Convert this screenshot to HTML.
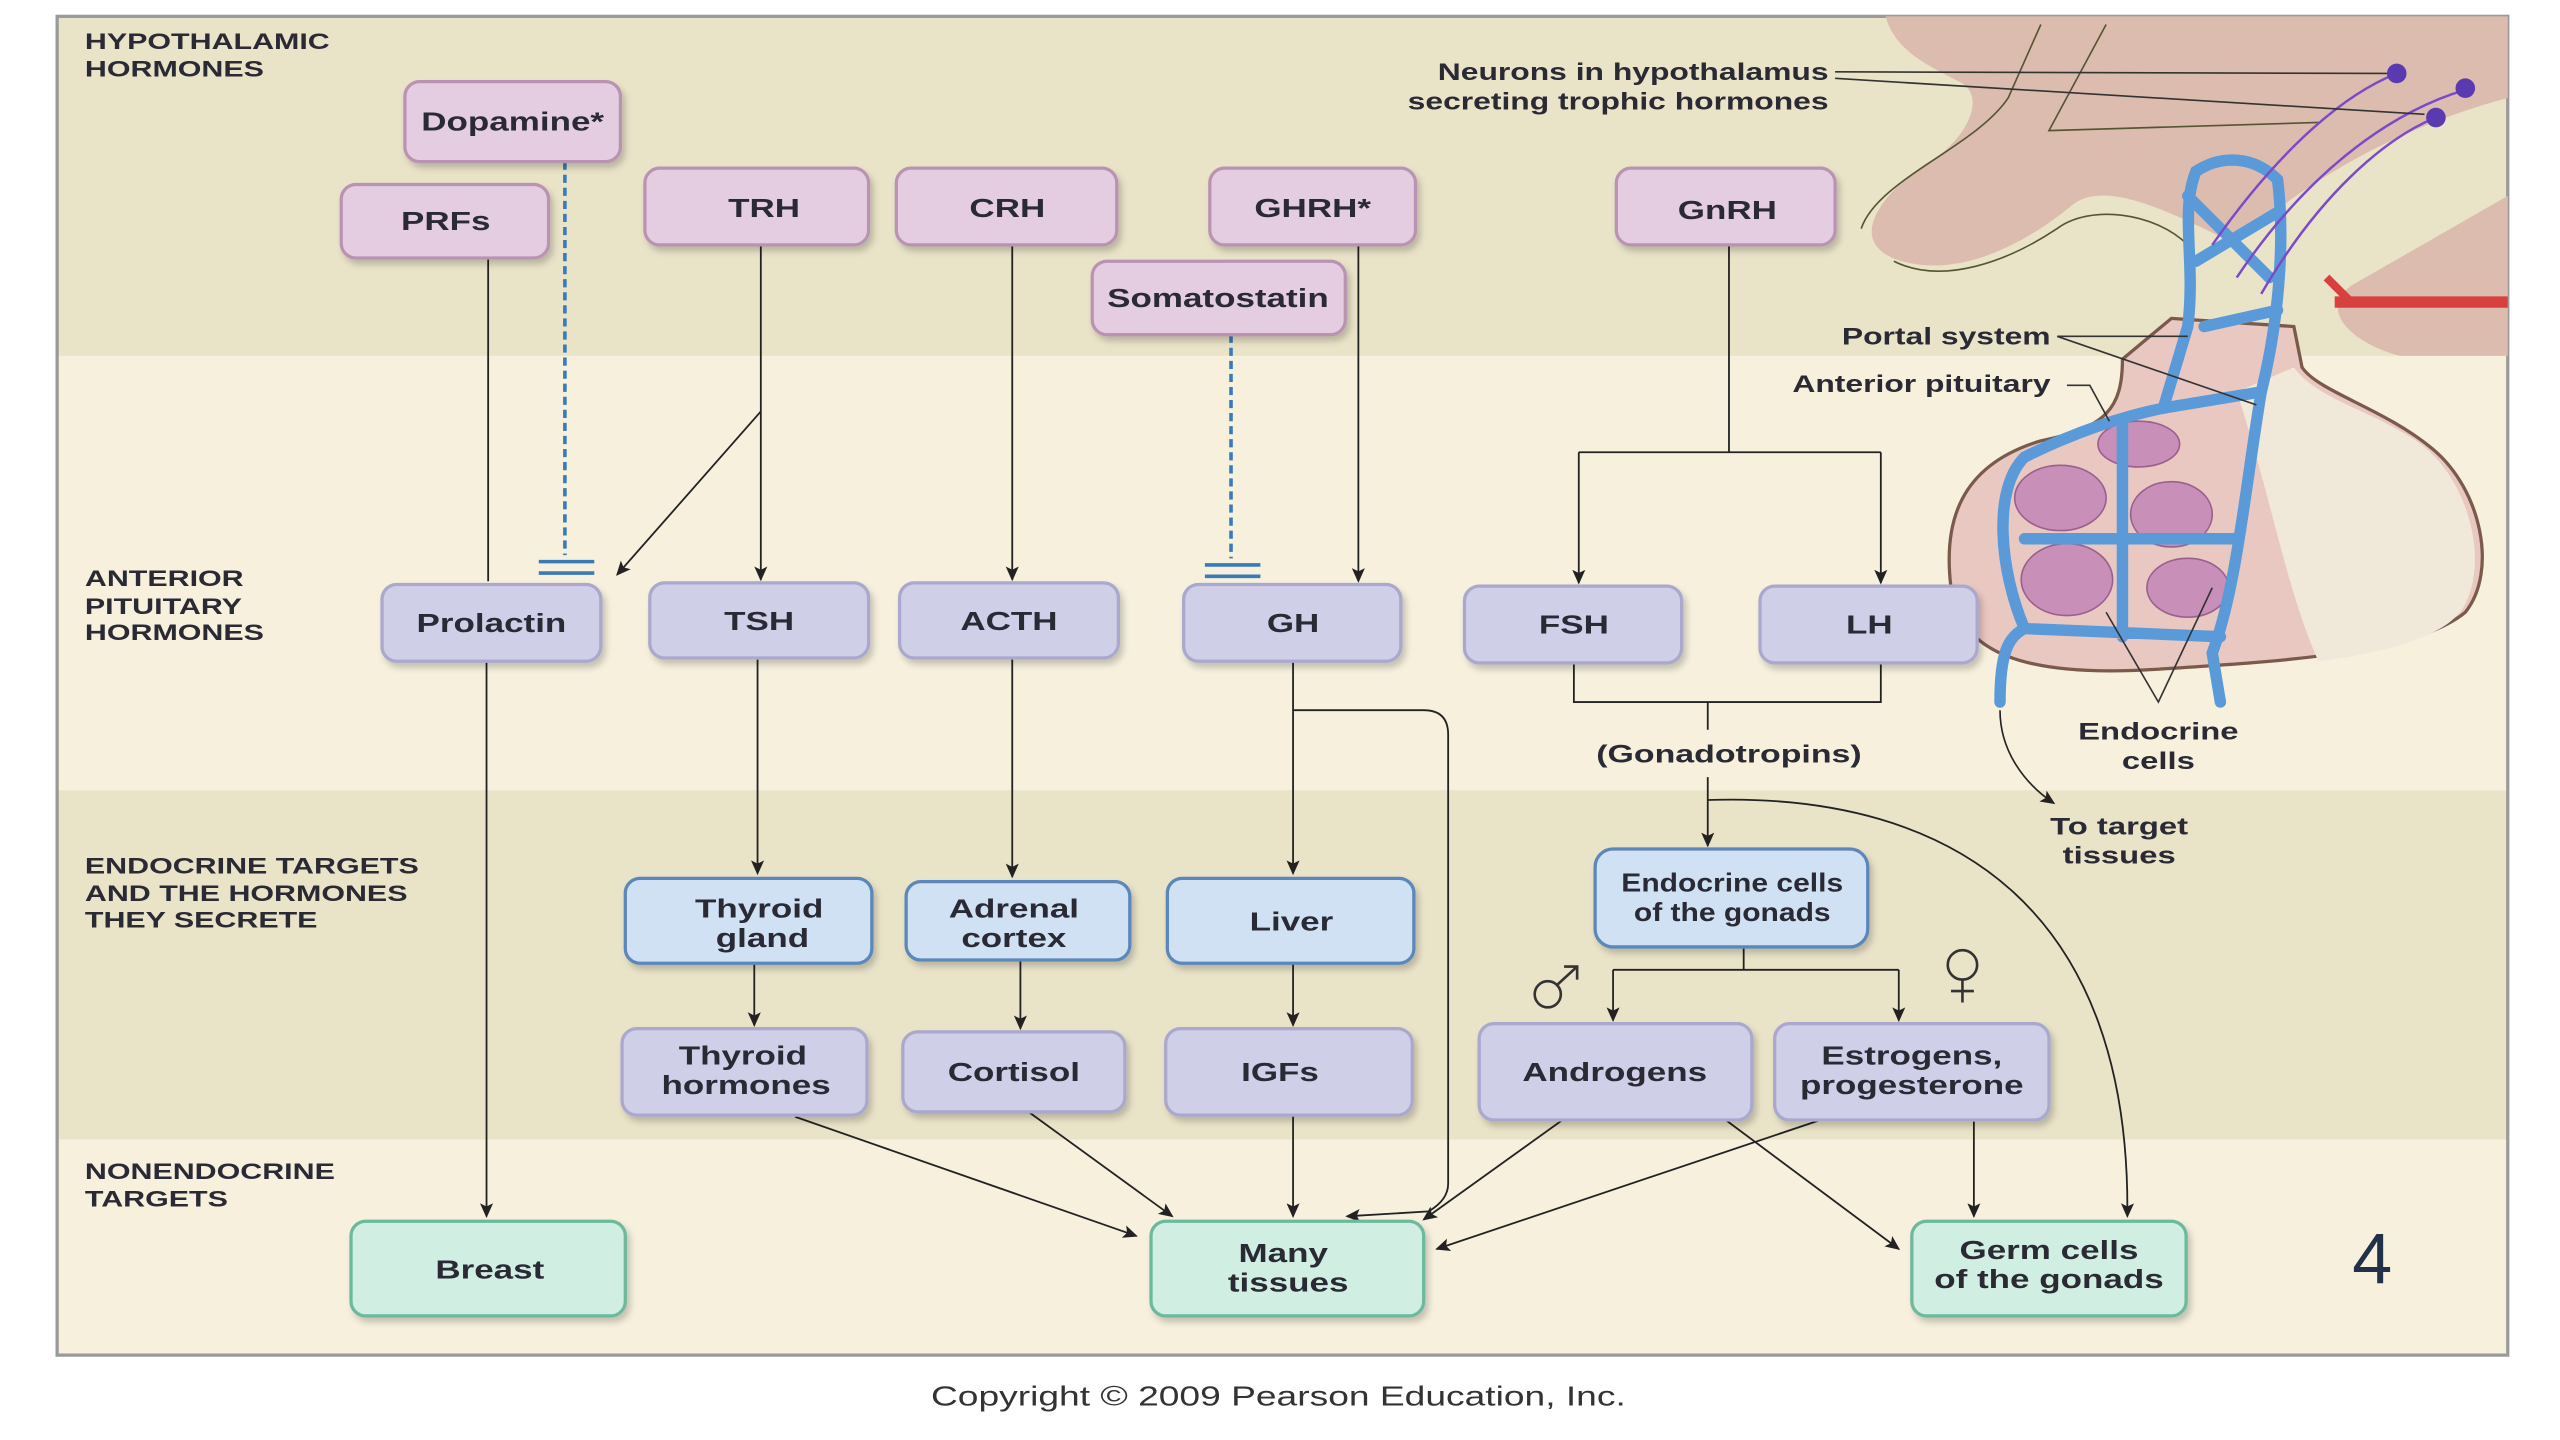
<!DOCTYPE html>
<html><head><meta charset="utf-8"><style>
html,body{margin:0;padding:0;background:#fff;width:2560px;height:1440px;overflow:hidden}
svg{display:block}
text{font-family:"Liberation Sans",sans-serif;font-weight:bold;fill:#2a2a35}
.c{transform-box:fill-box;transform-origin:center;transform:scaleX(1.34)}
.l{transform-box:fill-box;transform-origin:left;transform:scaleX(1.38)}
.r{transform-box:fill-box;transform-origin:right;transform:scaleX(1.3)}
</style></head><body>
<svg width="2560" height="1440" viewBox="0 0 1568 882" xmlns="http://www.w3.org/2000/svg">
<defs>
<marker id="a" markerWidth="10" markerHeight="10" refX="8" refY="5" orient="auto" markerUnits="userSpaceOnUse"><path d="M0,1 L9,5 L0,9 L2,5 Z" fill="#222"/></marker>
<filter id="s" x="-10%" y="-10%" width="130%" height="140%"><feDropShadow dx="2" dy="3" stdDeviation="2" flood-color="#000" flood-opacity="0.2"/></filter>
</defs>
<rect width="1568" height="882" fill="#fff"/>
<rect x="35" y="10" width="1501" height="208" fill="#e9e3c8"/>
<rect x="35" y="218" width="1501" height="266" fill="#f6f0dd"/>
<rect x="35" y="484" width="1501" height="214" fill="#e9e3c8"/>
<rect x="35" y="698" width="1501" height="132" fill="#f6f0dd"/>
<rect x="35" y="10" width="1501" height="820" fill="none" stroke="#9a9a9a" stroke-width="2"/>

<!-- illustration -->
<path d="M1155 10 L1536 10 L1536 218 L1470 218 C1440 210 1420 190 1440 175 L1536 120 L1536 60 C1460 80 1400 120 1370 150 C1330 130 1290 110 1270 125 C1240 150 1200 170 1165 160 C1130 150 1150 120 1180 100 C1200 90 1220 60 1200 50 C1180 40 1160 30 1155 10 Z" fill="#dcbcae"/>
<path d="M1140 140 C1150 110 1210 90 1230 60 L1250 15 M1290 15 L1255 80 L1420 75 M1160 160 C1190 175 1230 160 1260 140 C1280 125 1320 130 1340 150" stroke="#553" stroke-width="1" fill="none"/>
<path d="M1300 220 C1300 250 1290 262 1250 270 C1200 285 1190 320 1195 360 C1200 400 1240 415 1320 410 C1400 405 1480 400 1510 375 C1530 350 1520 300 1490 275 C1460 250 1420 240 1410 225 L1405 200 L1330 195 Z" fill="#e8c8c0" stroke="#7a5a4a" stroke-width="2"/>
<path d="M1370 240 C1390 300 1400 360 1420 405 C1460 400 1500 390 1510 370 C1525 340 1510 290 1480 270 C1450 250 1420 245 1405 225 Z" fill="#f0e8d8"/>
<g fill="#c890b8" stroke="#9a6090" stroke-width="1">
<ellipse cx="1262" cy="305" rx="28" ry="20"/><ellipse cx="1310" cy="272" rx="25" ry="14"/><ellipse cx="1330" cy="315" rx="25" ry="20"/><ellipse cx="1266" cy="355" rx="28" ry="22"/><ellipse cx="1340" cy="360" rx="25" ry="18"/>
</g>
<g stroke="#5a9ad8" stroke-width="7" fill="none" stroke-linecap="round">
<path d="M1225 430 C1225 400 1230 390 1240 385 C1225 350 1220 300 1240 280 C1270 265 1300 255 1325 250 L1340 200 C1345 160 1335 130 1345 105 C1360 95 1380 95 1395 110 C1400 150 1395 200 1385 240 C1375 300 1370 360 1355 400 L1360 430"/>
<path d="M1240 330 L1370 330 M1240 385 L1360 390 M1300 260 L1300 390 M1340 120 L1390 170 M1345 160 L1395 130 M1350 200 L1395 190 M1325 250 L1385 240"/>
</g>
<g stroke="#7a4ac8" stroke-width="1.5" fill="none">
<path d="M1355 150 C1390 100 1430 60 1468 45 M1370 170 C1410 110 1460 70 1510 55 M1385 180 C1420 120 1460 85 1492 72"/>
</g>
<g fill="#5a3ab0"><circle cx="1468" cy="45" r="6"/><circle cx="1510" cy="54" r="6"/><circle cx="1492" cy="72" r="6"/></g>
<path d="M1430 185 L1536 185" stroke="#d84040" stroke-width="7" fill="none"/>
<path d="M1425 170 L1440 185" stroke="#d84040" stroke-width="5" fill="none"/>

<!-- illustration labels -->
<text class="r" x="1120" y="49" font-size="15" text-anchor="end">Neurons in hypothalamus</text>
<text class="r" x="1120" y="67" font-size="15" text-anchor="end">secreting trophic hormones</text>
<path d="M1124 44 L1462 45 M1124 48 L1485 70" stroke="#333" stroke-width="1" fill="none"/>
<text class="r" x="1256" y="211" font-size="15" text-anchor="end">Portal system</text>
<path d="M1260 206 L1340 206 M1260 206 L1382 248" stroke="#333" stroke-width="1" fill="none"/>
<text class="r" x="1256" y="240" font-size="15" text-anchor="end">Anterior pituitary</text>
<path d="M1266 236 L1280 236 L1292 258" stroke="#333" stroke-width="1" fill="none"/>
<path d="M1290 375 L1322 430 L1355 360" stroke="#333" stroke-width="1" fill="none"/>
<text class="c" x="1322" y="453" font-size="15" text-anchor="middle">Endocrine</text>
<text class="c" x="1322" y="471" font-size="15" text-anchor="middle">cells</text>
<path d="M1225 435 C1225 460 1240 480 1258 492" stroke="#222" stroke-width="1" fill="none" marker-end="url(#a)"/>
<text class="c" x="1298" y="511" font-size="15" text-anchor="middle">To target</text>
<text class="c" x="1298" y="529" font-size="15" text-anchor="middle">tissues</text>

<!-- row labels -->
<g font-size="13.5">
<text class="l" x="52" y="30">HYPOTHALAMIC</text><text class="l" x="52" y="47">HORMONES</text>
<text class="l" x="52" y="359">ANTERIOR</text><text class="l" x="52" y="376">PITUITARY</text><text class="l" x="52" y="392">HORMONES</text>
<text class="l" x="52" y="535">ENDOCRINE TARGETS</text><text class="l" x="52" y="552">AND THE HORMONES</text><text class="l" x="52" y="568">THEY SECRETE</text>
<text class="l" x="52" y="722">NONENDOCRINE</text><text class="l" x="52" y="739">TARGETS</text>
</g>

<!-- connectors -->
<g stroke="#222" stroke-width="1.1" fill="none">
<path d="M299 158 L299 356"/>
<path d="M298 405 L298 745" marker-end="url(#a)"/>
<path d="M466 150 L466 355" marker-end="url(#a)"/>
<path d="M466 252 L378 352" marker-end="url(#a)"/>
<path d="M620 150 L620 355" marker-end="url(#a)"/>
<path d="M832 150 L832 356" marker-end="url(#a)"/>
<path d="M1059 150 L1059 277 M967 277 L1152 277"/>
<path d="M967 277 L967 357" marker-end="url(#a)"/>
<path d="M1152 277 L1152 357" marker-end="url(#a)"/>
<path d="M964 406 L964 430 L1152 430 L1152 406 M1046 430 L1046 447"/>
<path d="M1046 476 L1046 518" marker-end="url(#a)"/>
<path d="M1046 490 C1200 485 1305 560 1303 745" marker-end="url(#a)"/>
<path d="M464 403 L464 535" marker-end="url(#a)"/>
<path d="M620 403 L620 537" marker-end="url(#a)"/>
<path d="M792 405 L792 535" marker-end="url(#a)"/>
<path d="M792 435 L872 435 Q887 435 887 450 L887 725 Q887 735 875 742 L825 745" marker-end="url(#a)"/>
<path d="M462 590 L462 628" marker-end="url(#a)"/>
<path d="M625 588 L625 630" marker-end="url(#a)"/>
<path d="M792 590 L792 628" marker-end="url(#a)"/>
<path d="M792 683 L792 745" marker-end="url(#a)"/>
<path d="M487 684 L696 757" marker-end="url(#a)"/>
<path d="M630 681 L718 745" marker-end="url(#a)"/>
<path d="M957 686 L872 747" marker-end="url(#a)"/>
<path d="M1115 686 L880 765" marker-end="url(#a)"/>
<path d="M1057 686 L1163 765" marker-end="url(#a)"/>
<path d="M1209 686 L1209 745" marker-end="url(#a)"/>
<path d="M1068 580 L1068 594 M988 594 L1163 594"/>
<path d="M988 594 L988 625" marker-end="url(#a)"/>
<path d="M1163 594 L1163 625" marker-end="url(#a)"/>
</g>
<g stroke="#3a7ab8" stroke-width="2.2" fill="none">
<path d="M346 99 L346 340" stroke-dasharray="5,3"/>
<path d="M330 344 L364 344 M330 351 L364 351"/>
<path d="M754 205 L754 342" stroke-dasharray="5,3"/>
<path d="M738 346 L772 346 M738 353 L772 353"/>
</g>
<text class="c" x="1059" y="467" font-size="15.5" text-anchor="middle">(Gonadotropins)</text>
<g stroke="#333" stroke-width="1.6" fill="none">
<circle cx="948" cy="609" r="8"/><path d="M954 603 L966 592 M958 592 L966 592 L966 600"/>
<circle cx="1202" cy="591" r="9"/><path d="M1202 600 L1202 614 M1195 607 L1209 607"/>
</g>

<!-- boxes -->
<g filter="url(#s)" stroke-width="2">
<g fill="#e4cde0" stroke="#b994b2">
<rect x="248" y="50" width="132" height="49" rx="9"/>
<rect x="209" y="113" width="127" height="45" rx="9"/>
<rect x="395" y="103" width="137" height="47" rx="9"/>
<rect x="549" y="103" width="135" height="47" rx="9"/>
<rect x="741" y="103" width="126" height="47" rx="9"/>
<rect x="669" y="160" width="155" height="45" rx="9"/>
<rect x="990" y="103" width="134" height="47" rx="9"/>
</g>
<g fill="#d0cfe8" stroke="#aaa8cc">
<rect x="234" y="358" width="134" height="47" rx="9"/>
<rect x="398" y="357" width="134" height="46" rx="9"/>
<rect x="551" y="357" width="134" height="46" rx="9"/>
<rect x="725" y="358" width="133" height="47" rx="9"/>
<rect x="897" y="359" width="133" height="47" rx="9"/>
<rect x="1078" y="359" width="133" height="47" rx="9"/>
<rect x="381" y="630" width="150" height="53" rx="9"/>
<rect x="553" y="632" width="136" height="49" rx="9"/>
<rect x="714" y="630" width="151" height="53" rx="9"/>
<rect x="906" y="627" width="167" height="59" rx="9"/>
<rect x="1087" y="627" width="168" height="59" rx="9"/>
</g>
<g fill="#d0e1f4" stroke="#5b87ba">
<rect x="383" y="538" width="151" height="52" rx="9"/>
<rect x="555" y="540" width="137" height="48" rx="9"/>
<rect x="715" y="538" width="151" height="52" rx="9"/>
<rect x="977" y="520" width="167" height="60" rx="11"/>
</g>
<g fill="#d0eee2" stroke="#6cb99c">
<rect x="215" y="748" width="168" height="58" rx="9"/>
<rect x="705" y="748" width="167" height="58" rx="9"/>
<rect x="1171" y="748" width="168" height="58" rx="9"/>
</g>
</g>

<g font-size="16" text-anchor="middle">
<text class="c" x="314" y="80">Dopamine*</text>
<text class="c" x="273" y="141">PRFs</text>
<text class="c" x="468" y="133">TRH</text>
<text class="c" x="617" y="133">CRH</text>
<text class="c" x="804" y="133">GHRH*</text>
<text class="c" x="746" y="188">Somatostatin</text>
<text class="c" x="1058" y="134">GnRH</text>
<text class="c" x="301" y="387">Prolactin</text>
<text class="c" x="465" y="386">TSH</text>
<text class="c" x="618" y="386">ACTH</text>
<text class="c" x="792" y="387">GH</text>
<text class="c" x="964" y="388">FSH</text>
<text class="c" x="1145" y="388">LH</text>
<text class="c" x="465" y="562">Thyroid</text><text class="c" x="467" y="580">gland</text>
<text class="c" x="621" y="562">Adrenal</text><text class="c" x="621" y="580">cortex</text>
<text class="c" x="791" y="570">Liver</text>
<text x="1061" y="546" style="transform-box:fill-box;transform-origin:center;transform:scaleX(1.15)">Endocrine cells</text><text x="1061" y="564" style="transform-box:fill-box;transform-origin:center;transform:scaleX(1.15)">of the gonads</text>
<text class="c" x="455" y="652">Thyroid</text><text class="c" x="457" y="670">hormones</text>
<text class="c" x="621" y="662">Cortisol</text>
<text class="c" x="784" y="662">IGFs</text>
<text class="c" x="989" y="662">Androgens</text>
<text class="c" x="1171" y="652">Estrogens,</text><text class="c" x="1171" y="670">progesterone</text>
<text class="c" x="300" y="783">Breast</text>
<text class="c" x="786" y="773">Many</text><text class="c" x="789" y="791">tissues</text>
<text class="c" x="1255" y="771">Germ cells</text><text class="c" x="1255" y="789">of the gonads</text>
</g>
<text x="1453" y="786" font-size="44" text-anchor="middle" style="font-weight:normal;fill:#23304a">4</text>
<text class="c" x="783" y="861" font-size="17" text-anchor="middle" style="font-weight:normal;fill:#333">Copyright © 2009 Pearson Education, Inc.</text>
</svg>
</body></html>
